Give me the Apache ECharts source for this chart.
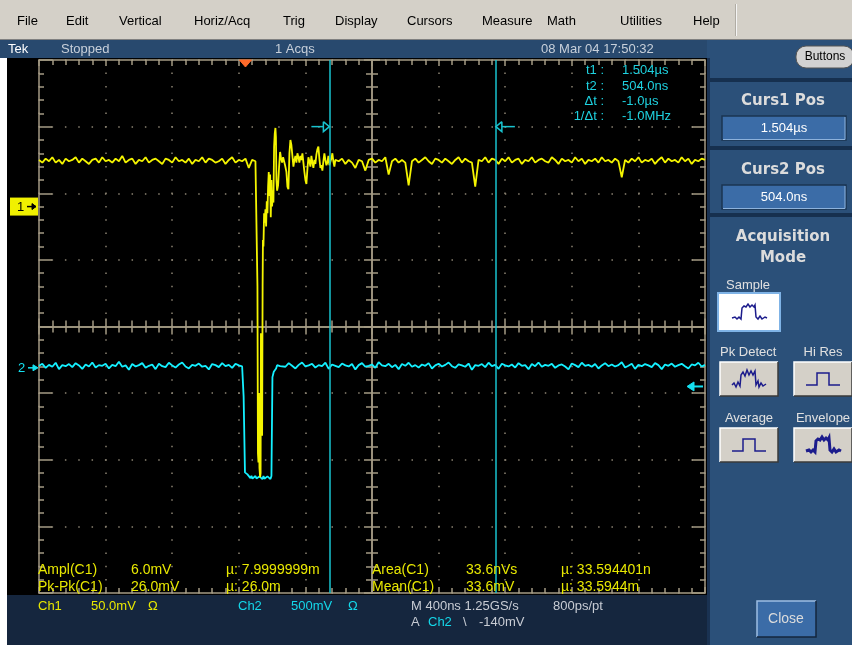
<!DOCTYPE html>
<html><head><meta charset="utf-8">
<script src="https://cdn.jsdelivr.net/npm/echarts@6.0.0/dist/echarts.min.js"></script>
<style>html,body{margin:0;padding:0;background:#fff;}#c{width:852px;height:645px;}</style>
</head><body><div id="c"></div>
<script>
// ---------------- DATA ----------------
const timeRange = [-1240, 2760];          // ns, 400 ns/div, 10 div
const sampleStep = 20;                    // ns between listed samples
const ch1PreStart = -1240;
const ch1Pre = [
 35,33,36,34,37,33,35,32,36,34,
 35,37,33,36,34,32,35,36,33,37,
 34,35,33,36,34,38,33,35,36,32,
 35,34,37,33,35,36,34,32,36,35,
 33,37,34,35,33,36,32,35,34,37,
 33,36,35,33,34,36,32,35,37,33,
 35,34,36,29,35,34];
const ch1Event = [
 [64,34],[70,33],[72,-60],[75,-185],[78,-192],[81,-140],[84,-196],[88,-203],[91,-200],[93,-95],
 [96,-160],[100,-172],[103,-60],[105,-25],[108,-30],[112,-5],[116,-12],[120,-2],[124,-15],[128,4],
 [132,-5],[136,15],[140,26],[144,8],[148,24],[152,-8],[156,20],[160,0],[164,12],[168,3],
 [172,45],[176,55],[180,59],[183,52],[186,20],[190,12],[196,16],[202,30],[208,41],[214,36],
 [220,33],[226,37],[232,34],[238,31],[246,26],[252,15],[258,13],[264,40],[270,50],[276,46],
 [282,38],[288,30],[294,35],[300,38],[306,33],[312,40],[318,37],[324,33],[330,38],[336,35],
 [342,40],[348,33],[354,26],[360,20],[366,17],[372,28],[378,37],[384,34],[390,30],[396,38],
 [402,33],[408,29],[414,35],[420,32],[426,39],[432,43],[438,45],[444,36],[450,29],[456,31],
 [462,27],[468,34],[474,40],[480,35],[486,31],[492,33],[498,38],[504,31],[510,32],[516,36],
 [522,40],[528,34],[534,30],[540,35]];
const ch1PostStart = 560;
const ch1Post = [
 34,36,32,35,33,29,35,34,27,35,
 36,33,35,34,37,24,34,36,33,35,
 33,16,34,36,33,35,37,34,32,36,
 35,33,36,34,32,35,37,33,36,34,
 33,15,35,34,37,33,36,35,32,36,
 34,37,33,35,36,32,35,34,37,33,
 35,36,34,33,37,35,32,36,34,35,
 33,37,34,36,32,35,34,36,33,37,
 34,35,33,36,34,22,35,33,36,34,
 37,33,35,34,36,32,35,37,33,36,
 34,35,33,37,34,36,32,35,34,36,35];
const ch2PreStart = -1240;
const ch2Pre = [
 15,30,0,22,8,38,-10,20,12,28,
 5,35,18,-8,25,10,40,2,20,15,
 30,-5,22,12,45,8,18,-15,28,10,
 20,35,0,15,25,-10,30,12,5,38,
 18,2,25,40,10,-5,22,15,32,8,
 15,-12,28,20,5,35,12,22,0,30,
 18,10];
const ch2Event = [
 [-14,15],[-11,-215],[-5,-210],[-3,-785],[0,-790],[6,-778],[12,-800],[18,-790],[24,-815],[30,-828],
 [36,-810],[42,-832],[48,-818],[54,-835],[60,-812],[66,-830],[72,-822],[78,-838],[84,-815],[90,-830],
 [96,-825],[102,-836],[108,-812],[114,-832],[120,-820],[126,-836],[132,-815],[138,-830],[144,-822],[150,-835],
 [156,-812],[160,-805],[162,-70],[166,-50],[170,-30],[174,-20],[178,-38],[184,-5],[190,20],[196,5],
 [202,28],[208,12]];
const ch2PostStart = 220;
const ch2Post = [
 25,8,35,15,-5,22,40,10,18,30,
 2,20,12,38,-8,25,15,5,32,18,
 10,28,-12,20,35,8,15,25,0,42,
 18,12,30,5,22,-10,28,15,38,8,
 20,2,25,15,35,-5,18,30,10,22,
 40,12,0,25,18,8,32,-15,20,15,
 28,5,38,12,22,-8,30,18,10,25,
 2,35,15,20,-10,28,12,40,8,22,
 15,30,0,18,25,10,-12,32,20,5,
 38,15,22,8,28,-5,18,35,12,25,
 10,20,42,2,15,30,-8,22,12,28,
 18,5,35,20,-10,25,15,32,8,20,
 30,12,-5,25,18,38,10,22];
const cursorTimes = [504, 1504];           // ns (t2, t1)
const triggerTime = 0;                     // ns
const triggerLevel = -140;                 // mV on Ch2
const ch1Scale = 50, ch2Scale = 500;       // mV/div
const ch1Position = 1.8, ch2Position = -0.62; // div from centre
const menuItems = ['File','Edit','Vertical','Horiz/Acq','Trig','Display','Cursors','Measure','Math','Utilities','Help'];
const statusTop = ['Tek','Stopped','1 Acqs','08 Mar 04 17:50:32'];
const cursorLabels = ['t1 :','t2 :','\u0394t :','1/\u0394t :'];
const cursorValues = ['1.504\u00b5s','504.0ns','-1.0\u00b5s','-1.0MHz'];
const measRows = [
 ['Ampl(C1)','6.0mV','\u00b5: 7.9999999m','Area(C1)','33.6nVs','\u00b5: 33.594401n'],
 ['Pk-Pk(C1)','26.0mV','\u00b5: 26.0m','Mean(C1)','33.6mV','\u00b5: 33.5944m']];
const panelCurs = [['Curs1 Pos','1.504\u00b5s'],['Curs2 Pos','504.0ns']];
const acqModes = ['Sample','Pk Detect','Hi Res','Average','Envelope'];

// ---------------- BUILD ----------------
const seq = (start, arr) => arr.map((v, i) => [start + i * sampleStep, v]);
const ch1Data = seq(ch1PreStart, ch1Pre).concat(ch1Event, seq(ch1PostStart, ch1Post));
const ch2Data = seq(ch2PreStart, ch2Pre).concat(ch2Event, seq(ch2PostStart, ch2Post));

const C_EDGE = '#a49a84', C_DOT = '#8a8272';
const FONT = '"Liberation Sans", Arial, sans-serif';
const FONTB = '"DejaVu Sans", Verdana, sans-serif';
const dotted = {show:true, lineStyle:{color:C_DOT, width:1.5, type:[1.5, 11.83], dashOffset:0.75}};
function gAxis(pos, inside, len, onZero, split) {
  return {
    type:'value', gridIndex:0, position:pos,
    axisLine:{show:true, onZero:onZero, onZeroAxisIndex:onZero?0:undefined, lineStyle:{color:C_EDGE, width:1.5}},
    axisTick:{show:true, inside:inside, length:len, lineStyle:{color:C_EDGE, width:1.5}},
    minorTick:{show:true, splitNumber:5, length:onZero?6:5, lineStyle:{color:C_EDGE, width:1.5}},
    axisLabel:{show:false}, splitLine: split ? dotted : {show:false}, minorSplitLine:{show:false}
  };
}
const gx = (o) => Object.assign(o, {min:-5, max:5, interval:1});
const gy = (o) => Object.assign(o, {min:-4, max:4, interval:1});

const chart = echarts.init(document.getElementById('c'), null, {renderer:'canvas', width:852, height:645});
chart.setOption({
  backgroundColor:'#000000',
  animation:false,
  grid:{left:39, top:60, width:666, height:533, show:false, outerBoundsMode:'none'},
  xAxis:[
    gx(gAxis('bottom', true, 6, false, true)),
    gx(gAxis('top', true, 6, false, false)),
    gx(gAxis('bottom', false, 8, true, false)),
    gx(gAxis('bottom', true, 8, true, false)),
    {type:'value', gridIndex:0, min:timeRange[0], max:timeRange[1], show:false}
  ],
  yAxis:[
    gy(gAxis('left', true, 13, false, true)),
    gy(gAxis('right', true, 13, false, false)),
    gy(gAxis('left', false, 8, true, false)),
    gy(gAxis('left', true, 8, true, false)),
    {type:'value', gridIndex:0, min:(-4-ch1Position)*ch1Scale, max:(4-ch1Position)*ch1Scale, show:false},
    {type:'value', gridIndex:0, min:(-4-ch2Position)*ch2Scale, max:(4-ch2Position)*ch2Scale, show:false}
  ],
  series:[
    {name:'Ch2', type:'line', xAxisIndex:4, yAxisIndex:5, data:ch2Data, symbol:'none', silent:true,
     lineStyle:{color:'#14f0ff', width:1.8}, z:3},
    {name:'Ch1', type:'line', xAxisIndex:4, yAxisIndex:4, data:ch1Data, symbol:'none', silent:true,
     lineStyle:{color:'#f4f400', width:1.8}, z:4,
     markLine:{silent:true, symbol:['none','none'], label:{show:false}, animation:false,
       lineStyle:{color:'#19c3cf', width:1.5, type:'solid'},
       data:cursorTimes.map(t => ({xAxis:t}))}}
  ]
});

// ---------------- DECORATION ----------------
const px = v => chart.convertToPixel({xAxisIndex:4}, v);
const py1 = v => chart.convertToPixel({yAxisIndex:4}, v);
const py2 = v => chart.convertToPixel({yAxisIndex:5}, v);
const pdy = v => chart.convertToPixel({yAxisIndex:0}, v);
const G = [];
function R(x,y,w,h,fill,z,stroke,lw,r){G.push({type:'rect',silent:true,z:z||-1,shape:{x,y,width:w,height:h,r:r||0},style:{fill,stroke:stroke||null,lineWidth:lw||0}});}
function L(pts,stroke,lw,z,fill){G.push({type:fill?'polygon':'polyline',silent:true,z:z||10,shape:{points:pts},style:{stroke,lineWidth:lw||1,fill:fill||null}});}
function T(text,x,y,fill,size,align,weight,fam){G.push({type:'text',silent:true,z:20,style:{text,x,y,fill,
  font:(weight||'normal')+' '+size+'px '+(fam||FONT),textAlign:align||'left',align:align||'left',
  textVerticalAlign:'middle',verticalAlign:'middle'}});}

// menu bar
R(0,0,852,40,'#d4d0c8');
L([[0,39.5],[852,39.5]],'#808080',1,0);
L([[735.5,4],[735.5,36]],'#b0aca4',1,0);
L([[736.5,4],[736.5,36]],'#f4f4f4',1,0);
const menuX = [17,66,119,194,283,335,407,482,547,620,693];
menuItems.forEach((m,i)=>T(m,menuX[i],21,'#000000',13));
// title bar
R(0,40,707,18,'#28496e');
const topX = [8,61,275,541];
statusTop.forEach((s,i)=>T(s,topX[i],49,i===0?'#ffffff':'#c8d0da',13));
// left white strip
R(0,58,7,587,'#ffffff');
// status bar
R(7,595,700,50,'#15263e');
T('Ch1',38,606,'#e8e800',13); T('50.0mV',91,606,'#e8e800',13); T('\u03a9',148,606,'#e8e800',13);
T('Ch2',238,606,'#14d8ea',13); T('500mV',291,606,'#14d8ea',13); T('\u03a9',348,606,'#14d8ea',13);
T('M 400ns 1.25GS/s',411,606,'#c8ccd4',13); T('800ps/pt',553,606,'#c8ccd4',13);
T('A',411,622,'#c8ccd4',13); T('Ch2',428,622,'#14d8ea',13); T('\\',463,622,'#c8ccd4',13);
T(triggerLevel+'mV',479,622,'#c8ccd4',13);
// right panel
R(707,40,145,605,'#2b5079');
R(707,58,3,587,'#1a3252');
[[78,4],[146,4],[213,4]].forEach(s=>R(710,s[0],142,s[1],'#16304f'));
R(796,46,58,22,'#d2d2d2',1,'#555555',1,10);
T('Buttons',825,57,'#000000',12,'center');
panelCurs.forEach((p,i)=>{
  const y0 = i===0 ? 101 : 170;
  T(p[0],783,y0,'#dcdcdc',15,'center','bold',FONTB);
  R(722,y0+15,124,24,'#3b6ca7',1,'#1b3452',1.5);
  L([[723,y0+38.5],[845,y0+38.5],[845,y0+16]],'#8db2dc',1,2);
  T(p[1],784,y0+27,'#ffffff',13,'center');
});
T('Acquisition',783,237,'#dcdcdc',15,'center','bold',FONTB);
T('Mode',783,258,'#dcdcdc',15,'center','bold',FONTB);
T(acqModes[0],726,285,'#e0e0e0',13);
T(acqModes[1],720,352,'#e0e0e0',13);
T(acqModes[2],823,352,'#e0e0e0',13,'center');
T(acqModes[3],749,418,'#e0e0e0',13,'center');
T(acqModes[4],823,418,'#e0e0e0',13,'center');
function btn(x,y,w,h,sel){
  if(sel){R(x,y,w,h,'#ffffff',1,'#7fb3e6',2);return;}
  R(x,y,w,h,'#d4d0c8',1);
  L([[x,y+h],[x,y],[x+w,y]],'#ffffff',1.5,2);
  L([[x,y+h],[x+w,y+h],[x+w,y]],'#3a3a3a',1.5,2);
}
btn(718,293,62,38,true); btn(720,362,58,34); btn(794,362,58,34); btn(720,428,58,34); btn(794,428,58,34);
const icoClean = [[-17,6],[-6,6],[-6,-6],[6,-6],[6,6],[17,6]];
const icoNoisy = [[-17,6],[-14,5],[-12,7],[-10,5],[-8,7],[-7,-4],[-5,-6],[-3,-5],[-1,-8],[1,-5],[3,-7],[5,-5],[6,-7],[7,5],[9,7],[11,4],[13,7],[16,5],[18,6]];
const icoPk = [[-17,6],[-15,4],[-13,8],[-11,3],[-9,7],[-8,-4],[-6,-7],[-4,-3],[-2,-9],[0,-4],[2,-8],[4,-4],[6,-8],[7,6],[9,2],[10,8],[12,4],[14,7],[17,5]];
function ico(pts,cx,cy,lw){L(pts.map(p=>[p[0]+cx,p[1]+cy]),'#1c1c8c',lw||1.5,21);}
ico(icoNoisy,749,312); ico(icoPk,749,379); ico(icoClean,823,379); ico(icoClean,749,445); ico(icoNoisy,823,445,3);
R(757,601,59,36,'#3b6ca7',1);
L([[757,637],[757,601],[816,601]],'#9dbde3',1.5,2);
L([[757,637],[816,637],[816,601]],'#14263e',1.5,2);
T('Close',786,619,'#dcdcdc',14,'center');

// channel markers
const y1 = py1(0), y2 = py2(0);
R(10,y1-9,28,18,'#f0f000',5);
T('1',17,y1+1,'#000000',13);
L([[27,y1],[36,y1]],'#000000',1.5,21); L([[36,y1],[32,y1-3],[32,y1+3]],'#000000',1,21,'#000000');
T('2',18,y2+1,'#14e0f0',13);
L([[28,y2],[37,y2]],'#14e0f0',1.5,21); L([[38,y2],[33,y2-3],[33,y2+3]],'#14e0f0',1,21,'#14e0f0');
// trigger position marker
const xt = px(triggerTime);
L([[xt-6,60],[xt+6,60],[xt,67]],'#ff6a2a',1,21,'#ff6a2a');
// trigger level arrow at right edge
const yl = py2(triggerLevel);
L([[692,yl],[703,yl]],'#14e0f0',2,21);
L([[687,yl],[694,yl-4.5],[694,yl+4.5]],'#14e0f0',1,21,'#14e0f0');
// cursor arrows
const ya = pdy(3);
const c2x = px(cursorTimes[0]), c1x = px(cursorTimes[1]);
L([[c2x-18,ya],[c2x-6,ya]],'#19c3cf',1.5,21);
L([[c2x-6,ya-5],[c2x,ya],[c2x-6,ya+5],[c2x-6,ya-5]],'#19c3cf',1.5,21);
L([[c1x+6,ya],[c1x+19,ya]],'#19c3cf',1.5,21);
L([[c1x+6,ya-5],[c1x,ya],[c1x+6,ya+5],[c1x+6,ya-5]],'#19c3cf',1.5,21);
// cursor readout
const ry = [70,86,101,116];
cursorLabels.forEach((s,i)=>T(s,604,ry[i],'#1ed2e0',13,'right'));
cursorValues.forEach((s,i)=>T(s,622,ry[i],'#1ed2e0',13));
// measurements
const mx = [38,131,226,372,466,561], my = [570,587];
measRows.forEach((row,r)=>row.forEach((s,i)=>T(s,mx[i],my[r],'#e8e800',14)));

chart.setOption({graphic:{elements:G}});
</script></body></html>
